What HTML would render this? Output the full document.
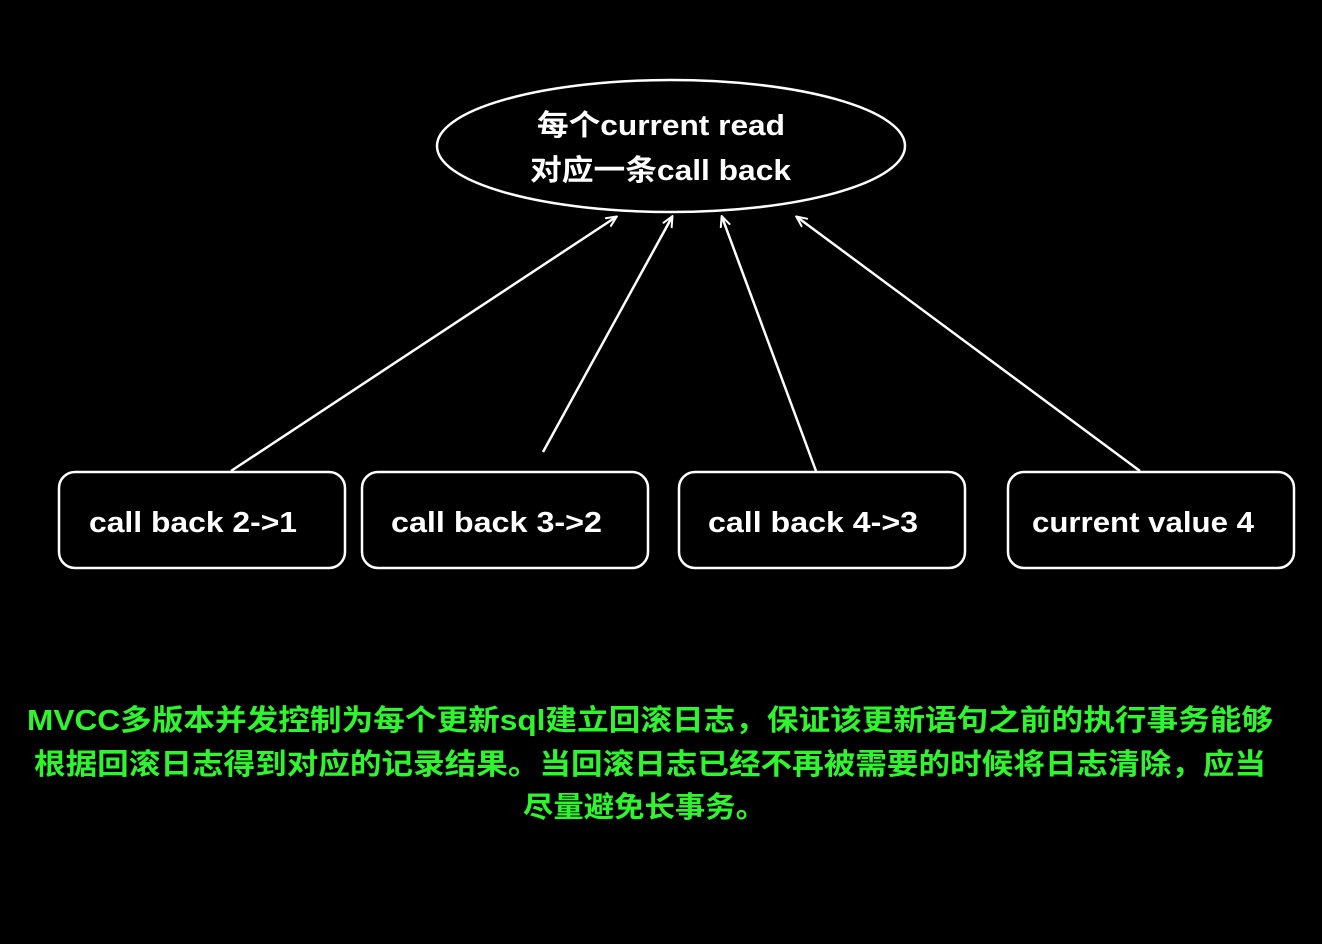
<!DOCTYPE html>
<html><head><meta charset="utf-8"><style>
html,body{margin:0;padding:0;background:#000;}
svg{display:block}
text{font-family:"Liberation Sans","Noto Sans CJK SC",sans-serif;font-weight:bold;}
</style></head><body>
<svg width="1322" height="944" viewBox="0 0 1322 944" xmlns="http://www.w3.org/2000/svg">
<defs>
<marker id="a" markerWidth="12" markerHeight="12" refX="10" refY="6" orient="auto" markerUnits="userSpaceOnUse">
<path d="M0,1 L11,6 L0,11" fill="none" stroke="#fff" stroke-width="2"/>
</marker>
</defs>
<rect width="1322" height="944" fill="#000"/>
<ellipse cx="671" cy="146" rx="234" ry="66" fill="none" stroke="#fff" stroke-width="2.5"/>
<text x="537" y="135" fill="#fff" font-size="29" textLength="248" lengthAdjust="spacingAndGlyphs">每个current read</text>
<text x="530" y="180" fill="#fff" font-size="29" textLength="261" lengthAdjust="spacingAndGlyphs">对应一条call back</text>
<g stroke="#fff" stroke-width="2.5" fill="none">
<line x1="231" y1="471" x2="616" y2="217" marker-end="url(#a)"/>
<line x1="543" y1="452" x2="672" y2="217" marker-end="url(#a)"/>
<line x1="816" y1="471" x2="722" y2="217" marker-end="url(#a)"/>
<line x1="1140" y1="471" x2="797" y2="217" marker-end="url(#a)"/>
<rect x="59" y="472" width="286" height="96" rx="16"/>
<rect x="362" y="472" width="286" height="96" rx="16"/>
<rect x="679" y="472" width="286" height="96" rx="16"/>
<rect x="1008" y="472" width="286" height="96" rx="16"/>
</g>
<g fill="#fff" font-size="29">
<text x="89" y="532" textLength="208" lengthAdjust="spacingAndGlyphs">call back 2-&gt;1</text>
<text x="391" y="532" textLength="211" lengthAdjust="spacingAndGlyphs">call back 3-&gt;2</text>
<text x="708" y="532" textLength="210" lengthAdjust="spacingAndGlyphs">call back 4-&gt;3</text>
<text x="1032" y="532" textLength="222" lengthAdjust="spacingAndGlyphs">current value 4</text>
</g>
<g fill="#2ef52e" font-size="29">
<text x="27" y="730" textLength="1246" lengthAdjust="spacingAndGlyphs">MVCC多版本并发控制为每个更新sql建立回滚日志，保证该更新语句之前的执行事务能够</text>
<text x="34" y="774" textLength="1232" lengthAdjust="spacingAndGlyphs">根据回滚日志得到对应的记录结果。当回滚日志已经不再被需要的时候将日志清除，应当</text>
<text x="523" y="817" textLength="243" lengthAdjust="spacingAndGlyphs">尽量避免长事务。</text>
</g>
</svg>
</body></html>
